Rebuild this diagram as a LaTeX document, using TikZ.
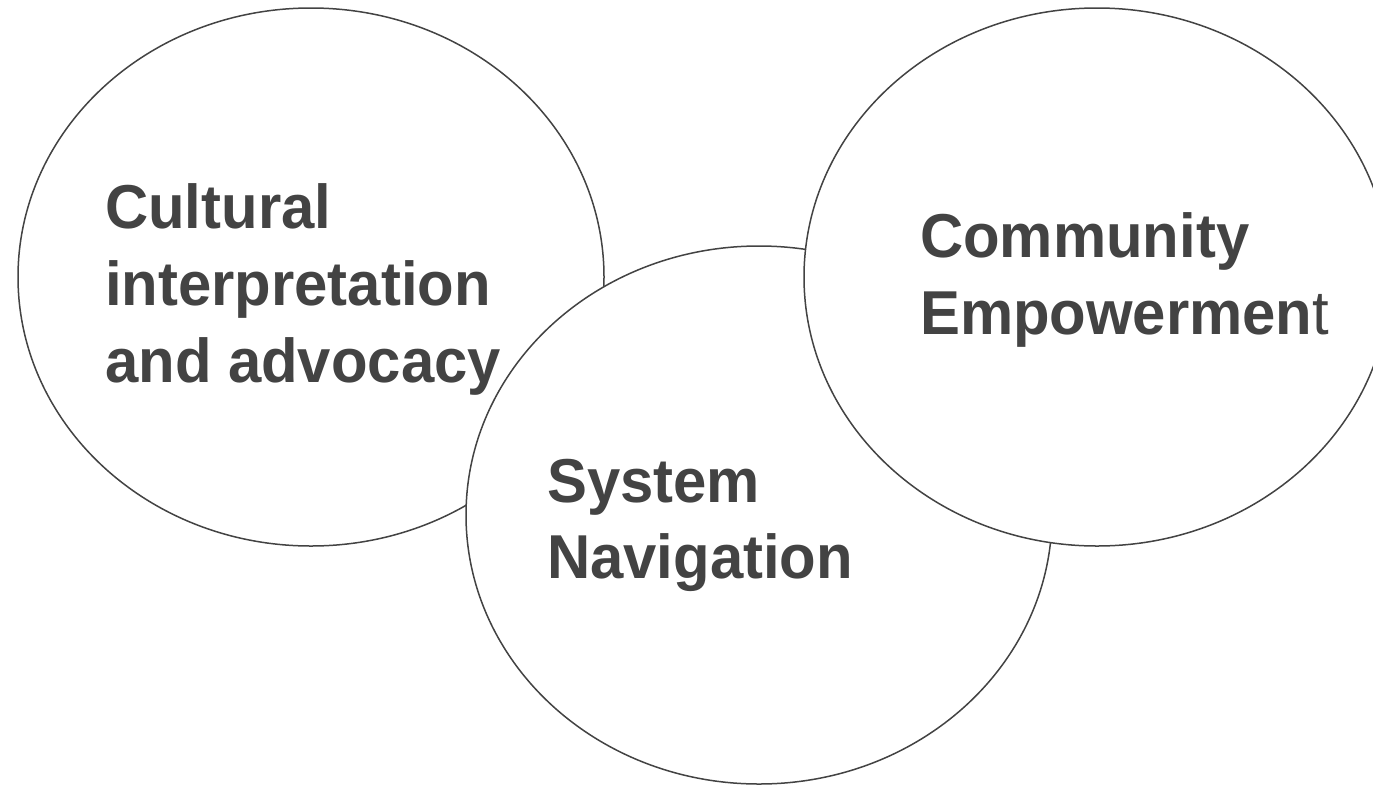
\documentclass[tikz,border=0pt]{standalone}
\usepackage{fontspec}
\newfontfamily\labelfont[FakeStretch=0.965]{Liberation Sans}
\definecolor{ink}{HTML}{434343}
\begin{document}
\begin{tikzpicture}[x=1pt,y=-1pt,
  ring/.style={draw=ink,line width=1.5pt,fill=white},
  label/.style={anchor=base west,inner sep=0pt,text=ink,
    font=\labelfont\bfseries\fontsize{62}{76.5}\selectfont}]
  \useasboundingbox (0,0) rectangle (1373,785);
  \clip (0,0) rectangle (1373,785);

  % three overlapping circles, later ones on top
  \path[ring] (311,277) ellipse [x radius=293, y radius=269];
  \path[ring] (759,515) ellipse [x radius=293, y radius=269];
  \path[ring] (1097,277) ellipse [x radius=293, y radius=269];

  % left circle
  \node[label] (cult1) at (105,228.5) {Cultural};
  \node[label] (cult2) at (105,305.5) {interpretation};
  \node[label] (cult3) at (105,382) {and advocacy};

  % middle circle
  \node[label] (sys1) at (547,502) {System};
  \node[label] (sys2) at (547,578.5) {Navigation};

  % right circle
  \node[label] (com1) at (920,257.5) {Community};
  \node[label] (com2) at (920,334) {Empowermen{\mdseries t}};
\end{tikzpicture}
\end{document}
